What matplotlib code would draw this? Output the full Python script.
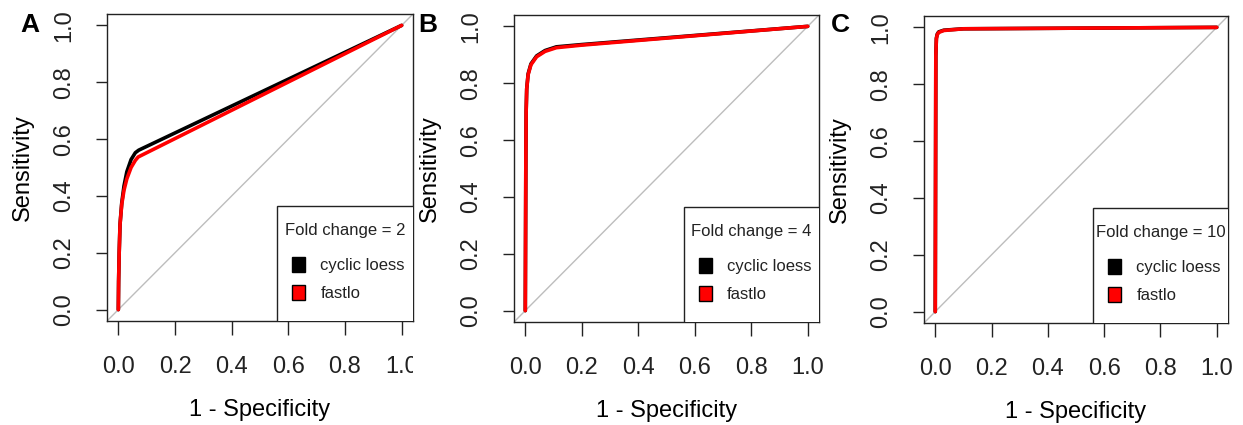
import matplotlib
matplotlib.use("Agg")
import matplotlib.pyplot as plt
from matplotlib.patches import Patch, Rectangle
from matplotlib.transforms import Bbox, TransformedBbox

plt.rcParams['font.family'] = ['Liberation Sans', 'DejaVu Sans']

# ---- data ----
panel_letters = ["A", "B", "C"]
fold_changes = ["2", "4", "10"]
series_names = ["cyclic loess", "fastlo"]
series_colors = ["black", "red"]

# Panel A
a_loess_fpr = [0.0, 0.001, 0.003, 0.006, 0.012, 0.02, 0.03, 0.045, 0.06, 0.072, 1.0]
a_loess_tpr = [0.0, 0.10, 0.20, 0.30, 0.375, 0.435, 0.485, 0.528, 0.552, 0.561, 1.0]
a_fastlo_fpr = [0.0, 0.001, 0.003, 0.006, 0.012, 0.02, 0.03, 0.045, 0.06, 0.07, 1.0]
a_fastlo_tpr = [0.0, 0.10, 0.20, 0.30, 0.37, 0.42, 0.46, 0.50, 0.525, 0.537, 1.0]

# Panel B
b_loess_fpr = [0.0, 0.002, 0.003, 0.005, 0.01, 0.02, 0.04, 0.07, 0.11, 0.2, 1.0]
b_loess_tpr = [0.0, 0.55, 0.70, 0.78, 0.833, 0.868, 0.896, 0.915, 0.928, 0.936, 1.0]
b_fastlo_fpr = [0.0, 0.002, 0.003, 0.005, 0.01, 0.02, 0.04, 0.07, 0.11, 0.2, 1.0]
b_fastlo_tpr = [0.0, 0.55, 0.70, 0.78, 0.83, 0.865, 0.893, 0.912, 0.925, 0.934, 1.0]

# Panel C
c_loess_fpr = [0.0, 0.002, 0.004, 0.007, 0.012, 0.03, 0.1, 1.0]
c_loess_tpr = [0.0, 0.90, 0.962, 0.976, 0.984, 0.99, 0.995, 1.0]
c_fastlo_fpr = [0.0, 0.002, 0.004, 0.007, 0.012, 0.03, 0.1, 1.0]
c_fastlo_tpr = [0.0, 0.90, 0.96, 0.974, 0.982, 0.989, 0.995, 1.0]

ticks = [0.0, 0.2, 0.4, 0.6, 0.8, 1.0]
tick_labels = ["0.0", "0.2", "0.4", "0.6", "0.8", "1.0"]

panels = [
    [(a_loess_fpr, a_loess_tpr), (a_fastlo_fpr, a_fastlo_tpr)],
    [(b_loess_fpr, b_loess_tpr), (b_fastlo_fpr, b_fastlo_tpr)],
    [(c_loess_fpr, c_loess_tpr), (c_fastlo_fpr, c_fastlo_tpr)],
]

W, H = 1243, 425
fig = plt.figure(figsize=(W / 100, H / 100), dpi=100)

# axes boxes in pixels: (left, top, right, bottom)
boxes = [(107, 14, 413, 321), (514, 15, 819, 322), (924, 16, 1228, 323)]
letter_x = [30, 428, 840]

for i, ax_box in enumerate(boxes):
    l, t, r, b = ax_box
    ax = fig.add_axes([l / W, 1 - b / H, (r - l) / W, (b - t) / H])
    ax.set_xlim(-0.04, 1.04)
    ax.set_ylim(-0.04, 1.04)
    ax.axline((0, 0), (1, 1), color="#bdbdbd", lw=1.0, zorder=1)
    for (fpr, tpr), col in zip(panels[i], series_colors):
        ax.plot(fpr, tpr, color=col, lw=2.6, solid_joinstyle="round",
                solid_capstyle="round", zorder=2)
    ax.set_xticks(ticks)
    ax.set_xticklabels(tick_labels)
    ax.set_yticks(ticks)
    ax.set_yticklabels(tick_labels, rotation=90, va="center")
    ax.tick_params(axis="x", length=10, width=1, pad=15, labelsize=17, colors="#222222")
    ax.tick_params(axis="y", length=8, width=1, pad=15, labelsize=17, colors="#222222")
    for s in ax.spines.values():
        s.set_linewidth(1.0)
        s.set_color("#222222")
    ax.set_xlabel("1 - Specificity", fontsize=17, labelpad=15)
    ax.set_ylabel("Sensitivity", fontsize=17, labelpad=14)

    # legend frame (axes fraction), title and entries
    ax.add_patch(Rectangle((0.557, -0.01), 0.5, 0.385, transform=ax.transAxes,
                           facecolor="white", edgecolor="#222222", lw=1.0,
                           zorder=5, clip_on=True))
    ax.text(0.778, 0.296, "Fold change = " + fold_changes[i], transform=ax.transAxes,
            ha="center", va="center", fontsize=12, color="#222222", zorder=6)
    handles = [Patch(facecolor=c, edgecolor="black", linewidth=1) for c in series_colors]
    leg = ax.legend(handles, series_names, loc="center left",
                    bbox_to_anchor=(0.605, 0.137), borderaxespad=0, borderpad=0,
                    fontsize=12, frameon=False,
                    handlelength=0.8, handleheight=1.0, handletextpad=0.9,
                    labelspacing=0.7)
    leg.set_zorder(7)
    for txt in leg.get_texts():
        txt.set_color("#222222")

    fig.text(letter_x[i] / W, 1 - 25 / H, panel_letters[i], fontsize=19,
             fontweight="bold", ha="center", va="center")

    if i == 0:
        # the reference cuts panel A's last tick label at the panel edge
        clip = TransformedBbox(Bbox.from_extents(0, 0, 413 / W, 1), fig.transFigure)
        for lab in ax.get_xticklabels():
            lab.set_clip_box(clip)
            lab.set_clip_on(True)

fig.savefig("out.png", dpi=100)
